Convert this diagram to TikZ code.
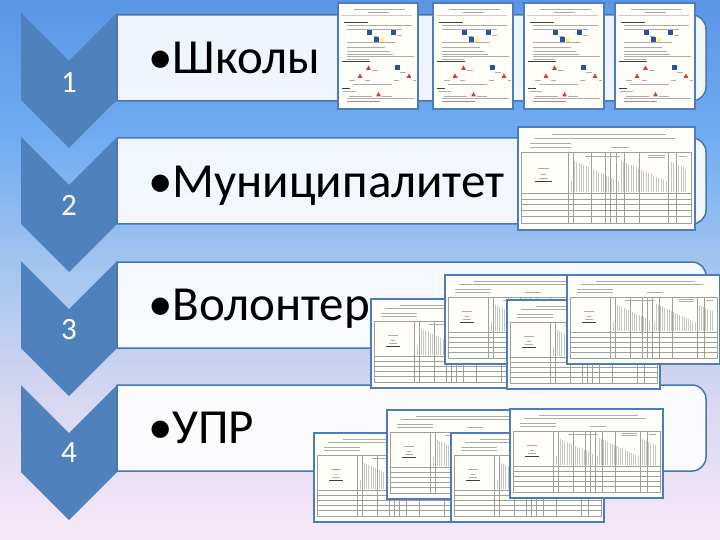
\documentclass[tikz,border=0pt]{standalone}
\usepackage{fontspec}
\setmainfont{Carlito}
\definecolor{chev}{HTML}{4F81BD}
\definecolor{rectborder}{HTML}{4876B2}
\definecolor{docborder}{HTML}{4C7CBA}
\definecolor{bgA}{HTML}{5A96E4}
\definecolor{bgB}{HTML}{70ABF2}
\definecolor{bgC}{HTML}{A4C6EF}
\definecolor{bgD}{HTML}{D9D8F1}
\definecolor{bgE}{HTML}{F8E8F7}
\definecolor{iconblue}{HTML}{2F4F9E}
\definecolor{iconred}{HTML}{D23A3A}
\definecolor{docfill}{HTML}{FFFEF9}
\pgfdeclareverticalshading{bgshade}{100bp}{color(0bp)=(bgE); color(25bp)=(bgE); color(37.5bp)=(bgD); color(50bp)=(bgC); color(62.5bp)=(bgB); color(75bp)=(bgA); color(100bp)=(bgA)}
\tikzset{
  chevshape/.style={fill=chev},
  bandshape/.style={draw=rectborder, line width=1.5pt, fill=white, fill opacity=0.9},
  numlbl/.style={text=white, font=\fontsize{31}{31}\selectfont, inner sep=0pt},
  mainlbl/.style={text=black, font=\fontsize{49}{49}\selectfont, inner sep=0pt, anchor=base west},
  docframe/.style={draw=docborder, line width=1.8pt, fill=docfill},
  txt/.style={draw=gray!65, line width=0.5pt},
  txtb/.style={draw=black!75, line width=0.8pt},
  tbl/.style={draw=gray!75, line width=0.4pt},
  hdr/.style={draw=gray!45, line width=0.35pt},
  iconb/.style={fill=iconblue},
  iconr/.style={fill=iconred},
}
\newcommand\portdoc[2]{%
\begin{scope}[shift={(#1,#2)}]
\draw[docframe] (0,0) rectangle (80,106);
\draw[txt] (16,6.5) -- (67,6.5);
\draw[txt] (30,8.8) -- (51,8.8);
\draw[draw=gray!40, line width=0.3pt] (3,12) -- (74,12);
\draw[txtb] (6,19.2) -- (30,19.2);
\draw[txt] (9,22.5) -- (74,22.5);
\draw[txt] (9,26) -- (64,26);
\fill[iconb] (28.6,27) rectangle +(5,5);
\fill[iconb] (53,27) rectangle +(5,5);
\fill[yellow!60] (41.5,35.5) rectangle +(4,4);
\fill[iconb] (36,34) rectangle +(5,5);
\draw[txt] (35,33) -- (40,33);
\draw[txt] (59,32) -- (64,32);
\draw[txt] (9,39.7) -- (57,39.7);
\draw[txt] (9,44.6) -- (47,44.6);
\draw[txt] (9,47.9) -- (52,47.9);
\draw[txt] (9,51.1) -- (55,51.1);
\draw[txt] (9,53.4) -- (76,53.4);
\draw[txt] (9,56) -- (31,56);
\draw[txtb] (4,58.6) -- (32,58.6);
\fill[iconr] (28,67) -- ++(2.5,-4.5) -- ++(2.5,4.5) -- cycle;
\fill[iconb] (57,62) rectangle +(5,5);
\fill[iconr] (19.5,75) -- ++(2.5,-4.5) -- ++(2.5,4.5) -- cycle;
\fill[iconr] (68.5,75) -- ++(2.5,-4.5) -- ++(2.5,4.5) -- cycle;
\draw[txt] (34,67) -- (40,67);
\draw[txt] (62,69) -- (68,69);
\draw[txt] (11,77) -- (17,77); \draw[txt] (27,77) -- (32,77);
\draw[txt] (56,77) -- (61,77); \draw[txt] (75,77) -- (78,77);
\draw[txt] (15,81.4) -- (54,81.4);
\draw[txtb] (4,85.3) -- (12,85.3);
\draw[txt] (5,88.6) -- (18,88.6);
\draw[txt] (11,92.8) -- (34,92.8);
\fill[iconr] (38,93.5) -- ++(2.5,-4.5) -- ++(2.5,4.5) -- cycle;
\draw[txt] (44,92.8) -- (54,92.8);
\draw[txt] (9,95.5) -- (76,95.5);
\draw[draw=iconred!70, line width=0.5pt] (9,98) -- (42,98);
\end{scope}}
\newcommand\landdoc[3]{%
\begin{scope}[shift={(#1,#2)}, scale=#3]
\draw[docframe] (0,0) rectangle (153,89);
\draw[txt] (29,6.5) -- (128,6.5);
\draw[txt] (14,9.5) -- (136,9.5);
\draw[txt] (10,14) -- (46,14);
\draw[txt] (10,17.5) -- (46,17.5);
\draw[txt] (80,17.5) -- (96,17.5);
\foreach \i in {0,...,46} {%
  \pgfmathsetmacro\xx{46+\i*2.15}
  \pgfmathsetmacro\hh{9+mod(\i*37,19)}
  \draw[hdr] (\xx,56) -- (\xx,56-\hh);
}
\draw[tbl] (3,22) rectangle (150,83);
\draw[tbl] (3,57) -- (150,57);
\foreach \yy in {62,67,72,77} {\draw[tbl] (3,\yy) -- (150,\yy);}
\foreach \xx in {43,48,63,75,80,85,92,105,130,137} {\draw[tbl] (\xx,22) -- (\xx,83);}
\draw[txt] (58,25) -- (88,25);
\draw[txt] (112,24.5) -- (127,24.5);
\draw[txt] (112,26.5) -- (127,26.5);
\draw[txt] (139,25) -- (146,25);
\draw[txt] (17,36) -- (27,36);
\draw[txt] (20,41) -- (24,41);
\draw[txt] (18,44) -- (26,44);
\draw[txtb] (15,47) -- (29,47);
\end{scope}}
\begin{document}
\begin{tikzpicture}[x=1pt,y=-1pt]
\useasboundingbox (0,0) rectangle (720,540);
\shade[shading=bgshade] (0,0) rectangle (720,540);
% chevrons
\foreach \t in {13,137,261,385} {
  \fill[chevshape] (21,\t) -- (69,\t+48) -- (117,\t) -- (117,\t+87) -- (69,\t+135) -- (21,\t+87) -- cycle;
}
% bands
\foreach \t in {15,138,262,385} {
  \draw[bandshape] (117,\t) [rounded corners=14pt] -- (706,\t) -- (706,\t+86) [sharp corners] -- (117,\t+86) -- cycle;
}
\node[numlbl] (n1) at (69,83) {1};
\node[numlbl] (n2) at (69,205) {2};
\node[numlbl] (n3) at (69,330) {3};
\node[numlbl] (n4) at (69,453) {4};
\node[mainlbl] (t1) at (148,74) {•Школы};
\node[mainlbl] (t2) at (148,197) {•Муниципалитет};
\node[mainlbl] (t3) at (148,320) {•Волонтер};
\node[mainlbl] (t4) at (148,443) {•УПР};
% row 1 documents
\portdoc{338}{3}
\portdoc{433}{3}
\portdoc{524}{3}
\portdoc{615}{3}
% row 2 document
\landdoc{518}{127}{1.157}
% row 3 documents
\landdoc{371}{299}{1}
\landdoc{445}{275}{1}
\landdoc{507}{300}{1}
\landdoc{567}{275}{1}
% row 4 documents
\landdoc{314}{433}{1}
\landdoc{387}{410}{1}
\landdoc{451}{433}{1}
\landdoc{510}{409}{1}
\end{tikzpicture}
\end{document}
